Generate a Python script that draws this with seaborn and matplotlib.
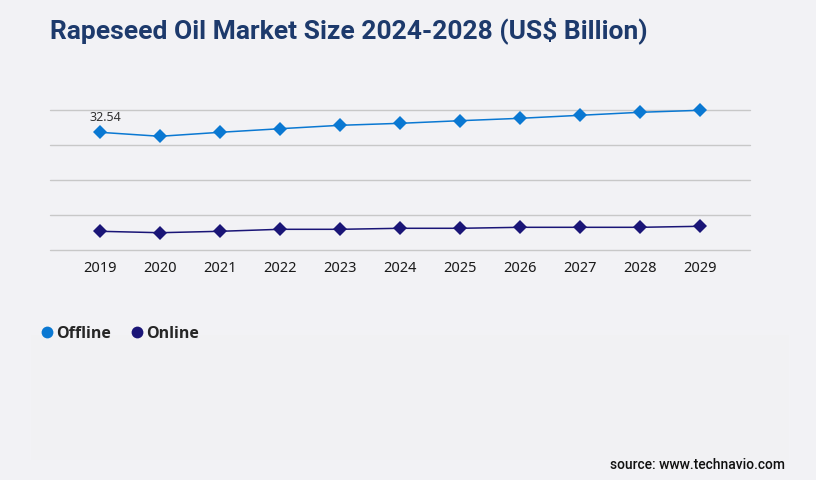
import seaborn as sns
import matplotlib.pyplot as plt
import matplotlib.patches as mpatches
from matplotlib.lines import Line2D
import pandas as pd
import numpy as np

years = ["2019", "2020", "2021", "2022", "2023", "2024", "2025", "2026", "2027", "2028", "2029"]
offline = [32.54, 31.44, 32.54, 33.53, 34.47, 35.02, 35.74, 36.40, 37.23, 38.06, 38.61]
online = [5.24, 4.85, 5.24, 5.79, 5.79, 6.07, 6.07, 6.34, 6.34, 6.34, 6.62]
series = ["Offline", "Online"]
colors = {"Offline": "#0a78d2", "Online": "#1a1577"}

bg = "#f2f2f5"

df = pd.DataFrame({
    "year": years * 2,
    "value": offline + online,
    "segment": ["Offline"] * len(years) + ["Online"] * len(years),
})
df["x"] = df["year"].map({y: i for i, y in enumerate(years)})

sns.set_theme(style="white")
plt.rcParams["font.family"] = ["Noto Sans", "DejaVu Sans"]

fig = plt.figure(figsize=(8.16, 4.8), dpi=100, facecolor=bg)

# very faint lighter panel behind the legend / source area
fig.patches.append(mpatches.Rectangle((31 / 816, 20 / 480), 758 / 816, 125 / 480,
                                      transform=fig.transFigure, facecolor="#f1f1f3",
                                      edgecolor="none", zorder=0))

ax = fig.add_axes([50 / 816, 1 - 250.3 / 480, 700 / 816, 140 / 480])
ax.set_facecolor(bg)

sns.lineplot(data=df, x="x", y="value", hue="segment", palette=colors,
             style="segment", markers={"Offline": "D", "Online": "D"}, dashes=False,
             markersize=6.8, linewidth=1.1, markeredgewidth=0, legend=False, ax=ax)

ymax = max(offline)
ax.set_ylim(0, ymax)
ax.set_yticks(np.linspace(0, ymax, 5))
ax.set_yticklabels([])
ax.set_xlim(-0.833, len(years) - 1 + 0.833)
ax.set_xticks(range(len(years)))
ax.set_xticklabels(years, fontsize=10.5, color="#1a1a1a")
ax.tick_params(axis="x", length=0, pad=8)
ax.tick_params(axis="y", length=0)
ax.grid(axis="y", color="#c8c8c8", linewidth=1)
for gl in ax.get_ygridlines():
    gl.set_clip_on(False)
ax.set_xlabel("")
ax.set_ylabel("")
for s in ax.spines.values():
    s.set_visible(False)
for ln in ax.lines:
    ln.set_clip_on(False)

ax.annotate(f"{offline[0]:.2f}", (0, offline[0]), xytext=(4, 6), textcoords="offset points",
            ha="center", va="bottom", fontsize=9, color="#333333")

fig.text(50 / 816, 1 - 31 / 480, "Rapeseed Oil Market Size 2024-2028 (US$ Billion)",
         fontsize=19, fontweight="bold", color="#1d3a6c", family="Roboto",
         ha="left", va="center")

handles = [Line2D([], [], marker="o", linestyle="none", markersize=8.5,
                  markerfacecolor=colors[s], markeredgewidth=0) for s in series]
fig.legend(handles, series, loc="center left", bbox_to_anchor=(33 / 816, 1 - 334 / 480),
           ncol=2, frameon=False, handlelength=0.8, handletextpad=0.15, columnspacing=1.25,
           borderpad=0, prop={"size": 11.5, "weight": "bold", "family": "Open Sans"})

fig.text(785 / 816, 1 - 465 / 480, "source: www.technavio.com", fontsize=10,
         fontweight="medium", family="Roboto", color="#111111", ha="right", va="center")

fig.savefig("out.png", dpi=100, facecolor=bg)
